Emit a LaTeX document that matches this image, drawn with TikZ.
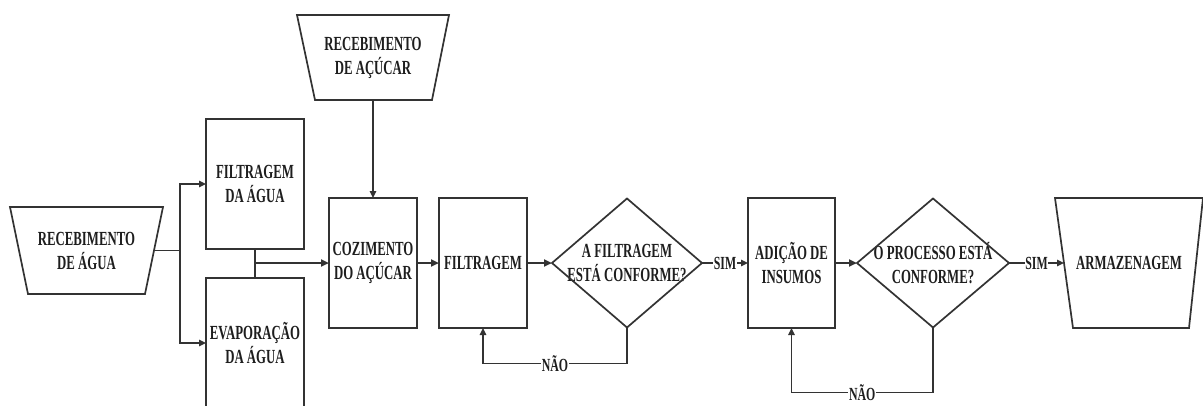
\documentclass[tikz,border=0pt]{standalone}
\usepackage{fontspec}
\setmainfont{Liberation Serif}[FakeStretch=0.64]
\usetikzlibrary{arrows.meta}
\definecolor{linec}{HTML}{333333}
\definecolor{textc}{HTML}{1E1E1E}
\begin{document}
\begin{tikzpicture}[x=1pt,y=-1pt,
  txt/.style={font=\bfseries\fontsize{20}{24}\selectfont, align=center, text=textc},
  procbox/.style={txt, draw=linec, line width=1.7pt, inner sep=0pt, outer sep=0pt, minimum height=130pt},
  shapebox/.style={txt, draw=none, inner sep=0pt, outer sep=0pt},
  shapeline/.style={draw=linec, line width=1.7pt, line join=miter},
  conn/.style={draw=linec, line width=1.4pt},
  arr/.style={conn, -{Triangle[length=7pt,width=6.5pt]}},
  thickarr/.style={draw=linec, line width=2.8pt, -{Triangle[length=8pt,width=7pt]}},
  lbl/.style={font=\bfseries\fontsize{18.5}{19}\selectfont, fill=white, inner sep=0.8pt, text=textc}]
\useasboundingbox (0,0) rectangle (1203,405);
\fill[white] (0,0) rectangle (1203,405);

% Recebimento de agua
\node[shapebox, minimum width=153pt, minimum height=87pt] (ra) at (86.5,250.5) {RECEBIMENTO\\DE ÁGUA};
\draw[shapeline] (ra.north west) -- (ra.north east) -- ([xshift=-18pt]ra.south east) -- ([xshift=18pt]ra.south west) -- cycle;

% Recebimento de acucar
\node[shapebox, minimum width=152pt, minimum height=85pt] (rac) at (373,57.5) {RECEBIMENTO\\DE AÇÚCAR};
\draw[shapeline] (rac.north west) -- (rac.north east) -- ([xshift=-17pt]rac.south east) -- ([xshift=18pt]rac.south west) -- cycle;

% process boxes
\node[procbox, minimum width=98pt] (fa) at (255,184) {FILTRAGEM\\DA ÁGUA};
\node[procbox, minimum width=98pt] (ea) at (255,343) {EVAPORAÇÃO\\DA ÁGUA};
\node[procbox, minimum width=88pt] (cz) at (373,263) {COZIMENTO\\DO AÇÚCAR};
\node[procbox, minimum width=88pt] (fl) at (483,263) {FILTRAGEM};
\node[procbox, minimum width=87pt] (ad) at (791.5,263) {ADIÇÃO DE\\INSUMOS};

% decisions
\node[shapebox, minimum width=150pt, minimum height=129pt] (d1) at (627,263) {A FILTRAGEM\\ESTÁ CONFORME?};
\draw[shapeline] (d1.north) -- (d1.east) -- (d1.south) -- (d1.west) -- cycle;
\node[shapebox, minimum width=152pt, minimum height=129pt] (d2) at (933,263) {O PROCESSO ESTÁ\\CONFORME?};
\draw[shapeline] (d2.north) -- (d2.east) -- (d2.south) -- (d2.west) -- cycle;

% armazenagem
\node[shapebox, minimum width=148pt, minimum height=130pt] (arm) at (1129,263) {ARMAZENAGEM};
\draw[shapeline] (arm.north west) -- (arm.north east) -- ([xshift=-14pt]arm.south east) -- ([xshift=18pt]arm.south west) -- cycle;

% connectors
\coordinate (j) at (180,250.5);
\draw[conn] ([xshift=-9pt]ra.east) -- (j);
\draw[arr] (j) |- (fa.west);
\draw[arr] (j) |- (ea.west);
\draw[conn] (fa.south) -- (ea.north);
\coordinate (m) at (255,263);
\draw[thickarr] (m) -- (cz.west);
\draw[arr] (rac.south) -- (cz.north);
\draw[thickarr] (cz.east) -- (fl.west);
\draw[thickarr] (fl.east) -- (d1.west);
\draw[arr] (d1.east) -- node[lbl]{SIM} (ad.west);
\draw[thickarr] (ad.east) -- (d2.west);
\draw[arr] (d2.east) -- node[lbl]{SIM} ([xshift=9pt]arm.west);
\draw[arr] (d1.south) -- ++(0,36) -| node[lbl, pos=0.25]{NÃO} (fl.south);
\draw[arr] (d2.south) -- ++(0,65) -| node[lbl, pos=0.25]{NÃO} (ad.south);
\end{tikzpicture}
\end{document}
